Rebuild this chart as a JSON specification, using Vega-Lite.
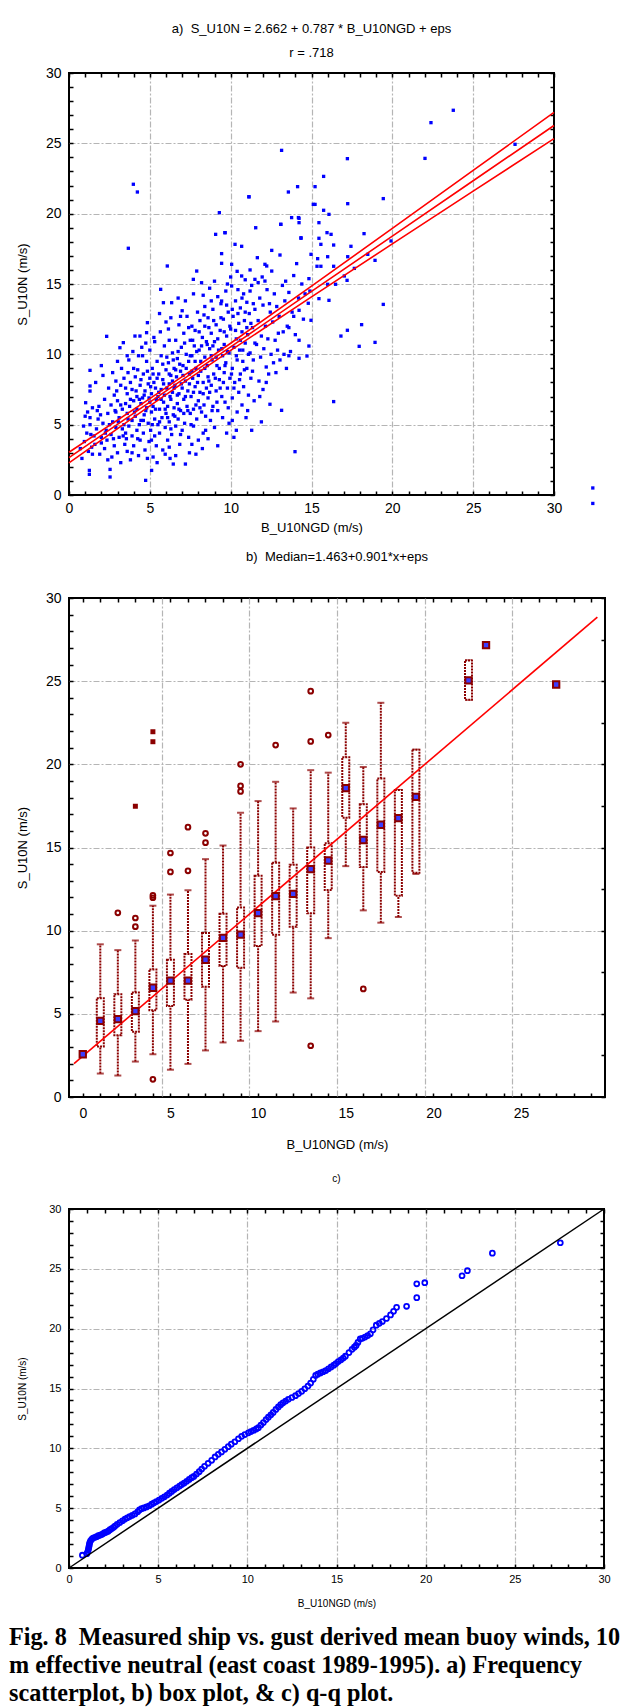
{
"$schema": "https://vega.github.io/schema/vega-lite/v6.json",
"background": "white",
"padding": {"left": 9, "top": 22, "right": 5, "bottom": 0},
"config": {
  "font": "Liberation Sans",
  "view": {"stroke": "#000", "strokeWidth": 2},
  "axis": {"labelFont": "Liberation Sans", "titleFont": "Liberation Sans", "labelColor": "#000", "titleColor": "#000", "titleFontWeight": "normal", "domain": false, "gridColor": "#b5b5b5", "gridDash": [6, 2, 2, 2], "gridWidth": 1.2, "tickColor": "#000", "tickWidth": 1.5, "labelOverlap": false, "labelFlush": false},
  "title": {"font": "Liberation Sans", "fontWeight": "normal", "color": "#000"}
},
"title": {"text": ["Fig. 8\u00a0 Measured ship vs. gust derived mean buoy winds, 10", "m effective neutral (east coast 1989-1995). a) Frequency", "scatterplot, b) box plot, & c) q-q plot."], "orient": "bottom", "anchor": "start", "font": "Liberation Serif", "fontSize": 24.2, "fontWeight": "bold", "lineHeight": 28, "offset": 17, "dx": -6, "color": "#000"},
"datasets": {
  "scatter": [
    {"b":0.8,"s":2.6},{"b":0.95,"s":3.8},{"b":1.03,"s":6.56},{"b":1.0,"s":5.6},{"b":1.1,"s":4.4},{"b":1.2,"s":3.1},{"b":1.3,"s":7.75},{"b":1.3,"s":7.39},{"b":1.3,"s":8.86},{"b":1.3,"s":5.5},{"b":1.3,"s":5.0},{"b":1.35,"s":4.3},{"b":1.4,"s":3.4},{"b":1.45,"s":2.9},{"b":1.26,"s":1.47},{"b":1.26,"s":1.75},{"b":0.9,"s":4.9},{"b":1.15,"s":5.9},{"b":1.45,"s":6.2},{"b":0.7,"s":3.3},
    {"b":1.6,"s":3.6},{"b":1.7,"s":4.7},{"b":1.8,"s":5.4},{"b":1.85,"s":6.3},{"b":1.9,"s":2.9},{"b":2.0,"s":9.2},{"b":2.0,"s":4.1},{"b":2.1,"s":5.1},{"b":2.2,"s":3.3},{"b":2.2,"s":6.8},{"b":2.33,"s":11.28},{"b":2.3,"s":4.6},{"b":2.4,"s":5.8},{"b":2.4,"s":2.5},{"b":2.45,"s":7.6},{"b":1.65,"s":8.0},{"b":2.1,"s":8.5},{"b":2.54,"s":1.28},{"b":2.54,"s":1.82},{"b":2.0,"s":3.7},{"b":1.75,"s":6.0},{"b":2.35,"s":3.9},
    {"b":2.6,"s":4.3},{"b":2.6,"s":6.4},{"b":2.7,"s":5.2},{"b":2.7,"s":8.7},{"b":2.8,"s":3.5},{"b":2.8,"s":7.1},{"b":2.9,"s":4.8},{"b":2.9,"s":5.9},{"b":3.0,"s":3.0},{"b":3.0,"s":6.7},{"b":3.0,"s":9.5},{"b":3.1,"s":4.1},{"b":3.1,"s":5.5},{"b":3.15,"s":10.47},{"b":3.2,"s":7.8},{"b":3.2,"s":2.3},{"b":3.3,"s":4.7},{"b":3.3,"s":6.1},{"b":3.36,"s":10.83},{"b":3.4,"s":5.0},{"b":3.4,"s":8.3},{"b":3.45,"s":3.6},{"b":2.65,"s":2.7},{"b":2.95,"s":7.4},{"b":3.25,"s":9.0},{"b":3.5,"s":6.5},{"b":3.5,"s":4.4},
    {"b":3.6,"s":5.8},{"b":3.6,"s":7.2},{"b":3.6,"s":3.1},{"b":3.7,"s":9.6},{"b":3.7,"s":4.9},{"b":3.75,"s":6.3},{"b":3.8,"s":8.0},{"b":3.8,"s":2.5},{"b":3.9,"s":5.3},{"b":3.9,"s":7.5},{"b":3.9,"s":4.2},{"b":4.0,"s":6.7},{"b":4.0,"s":9.0},{"b":4.0,"s":3.5},{"b":4.08,"s":11.3},{"b":4.1,"s":5.6},{"b":4.1,"s":8.4},{"b":4.2,"s":4.6},{"b":4.2,"s":7.0},{"b":4.2,"s":6.1},{"b":4.3,"s":9.9},{"b":4.3,"s":2.8},{"b":4.35,"s":5.0},{"b":4.39,"s":11.3},{"b":4.4,"s":7.8},{"b":4.4,"s":3.9},{"b":4.45,"s":6.5},{"b":3.65,"s":8.7},{"b":3.95,"s":10.2},{"b":4.25,"s":8.9},{"b":4.45,"s":5.3},{"b":3.55,"s":4.0},
    {"b":4.55,"s":6.9},{"b":4.6,"s":4.4},{"b":4.6,"s":8.6},{"b":4.65,"s":5.7},{"b":4.7,"s":7.4},{"b":4.7,"s":3.2},{"b":4.74,"s":1.04},{"b":4.8,"s":11.54},{"b":4.8,"s":6.2},{"b":4.8,"s":9.5},{"b":4.85,"s":12.25},{"b":4.9,"s":5.1},{"b":4.9,"s":7.9},{"b":4.95,"s":3.8},{"b":5.0,"s":6.6},{"b":5.0,"s":8.3},{"b":5.0,"s":10.3},{"b":5.05,"s":4.6},{"b":5.1,"s":5.9},{"b":5.11,"s":1.75},{"b":5.1,"s":7.2},{"b":5.15,"s":9.0},{"b":5.2,"s":2.7},{"b":5.2,"s":6.3},{"b":5.25,"s":8.0},{"b":5.3,"s":4.2},{"b":5.3,"s":5.4},{"b":5.3,"s":10.9},{"b":5.35,"s":7.6},{"b":5.4,"s":6.8},{"b":5.4,"s":3.5},{"b":5.45,"s":9.5},{"b":5.5,"s":5.0},{"b":5.5,"s":7.0},{"b":4.55,"s":9.9},{"b":4.75,"s":10.8},{"b":5.25,"s":11.2},{"b":4.85,"s":2.6},{"b":5.45,"s":2.3},
    {"b":5.55,"s":8.6},{"b":5.6,"s":6.1},{"b":5.6,"s":4.4},{"b":5.67,"s":14.62},{"b":5.7,"s":7.5},{"b":5.7,"s":9.9},{"b":5.75,"s":5.5},{"b":5.8,"s":3.2},{"b":5.8,"s":8.2},{"b":5.84,"s":13.67},{"b":5.85,"s":6.6},{"b":5.9,"s":7.1},{"b":5.9,"s":10.6},{"b":5.95,"s":4.8},{"b":6.0,"s":5.8},{"b":6.0,"s":8.9},{"b":6.0,"s":12.3},{"b":6.05,"s":7.6},{"b":6.08,"s":16.28},{"b":6.1,"s":3.9},{"b":6.1,"s":6.3},{"b":6.15,"s":9.4},{"b":6.2,"s":5.2},{"b":6.2,"s":7.9},{"b":6.2,"s":11.0},{"b":6.25,"s":2.6},{"b":6.3,"s":6.8},{"b":6.3,"s":8.5},{"b":6.35,"s":13.67},{"b":6.35,"s":4.3},{"b":6.4,"s":7.3},{"b":6.4,"s":10.1},{"b":6.45,"s":5.7},{"b":6.5,"s":9.0},{"b":6.5,"s":6.2},{"b":5.65,"s":11.6},{"b":6.15,"s":11.8},{"b":6.45,"s":2.2},{"b":5.95,"s":2.9},{"b":6.3,"s":12.6},
    {"b":6.55,"s":7.8},{"b":6.6,"s":4.9},{"b":6.6,"s":11.0},{"b":6.65,"s":8.4},{"b":6.7,"s":6.5},{"b":6.7,"s":9.7},{"b":6.75,"s":5.4},{"b":6.8,"s":7.2},{"b":6.8,"s":12.1},{"b":6.85,"s":3.6},{"b":6.9,"s":8.8},{"b":6.9,"s":6.0},{"b":6.95,"s":10.5},{"b":7.0,"s":7.6},{"b":7.0,"s":4.6},{"b":7.05,"s":9.2},{"b":7.1,"s":6.8},{"b":7.1,"s":11.5},{"b":7.15,"s":5.1},{"b":7.2,"s":8.1},{"b":7.2,"s":2.2},{"b":7.25,"s":10.0},{"b":7.3,"s":6.3},{"b":7.3,"s":12.7},{"b":7.35,"s":7.4},{"b":7.4,"s":4.1},{"b":7.4,"s":9.5},{"b":7.45,"s":8.6},{"b":7.5,"s":5.8},{"b":7.5,"s":11.0},{"b":7.0,"s":13.1},{"b":6.6,"s":2.8},{"b":7.45,"s":3.0},{"b":7.2,"s":13.8},{"b":6.75,"s":14.0},
    {"b":7.55,"s":7.0},{"b":7.6,"s":9.9},{"b":7.6,"s":12.0},{"b":7.65,"s":8.3},{"b":7.69,"s":15.33},{"b":7.7,"s":6.1},{"b":7.7,"s":4.9},{"b":7.75,"s":10.6},{"b":7.8,"s":7.7},{"b":7.8,"s":11.7},{"b":7.85,"s":9.0},{"b":7.9,"s":15.92},{"b":7.9,"s":5.4},{"b":7.95,"s":13.0},{"b":8.0,"s":8.5},{"b":8.0,"s":6.7},{"b":8.0,"s":3.9},{"b":8.05,"s":10.3},{"b":8.1,"s":7.3},{"b":8.1,"s":12.4},{"b":8.15,"s":9.5},{"b":8.2,"s":15.09},{"b":8.2,"s":5.9},{"b":8.25,"s":11.2},{"b":8.3,"s":8.0},{"b":8.3,"s":14.2},{"b":8.35,"s":6.4},{"b":8.4,"s":9.8},{"b":8.4,"s":13.4},{"b":8.45,"s":4.6},{"b":8.5,"s":7.6},{"b":8.5,"s":10.9},{"b":7.85,"s":2.9},{"b":8.25,"s":3.3},{"b":8.4,"s":12.0},{"b":7.7,"s":14.3},
    {"b":8.55,"s":9.2},{"b":8.6,"s":12.6},{"b":8.6,"s":6.9},{"b":8.65,"s":8.1},{"b":8.7,"s":10.4},{"b":8.7,"s":14.7},{"b":8.75,"s":5.3},{"b":8.8,"s":11.5},{"b":8.8,"s":7.8},{"b":8.85,"s":9.6},{"b":8.9,"s":13.2},{"b":8.9,"s":6.3},{"b":8.95,"s":8.6},{"b":9.0,"s":10.9},{"b":9.0,"s":4.8},{"b":9.07,"s":18.53},{"b":9.1,"s":12.1},{"b":9.1,"s":7.4},{"b":9.15,"s":9.2},{"b":9.2,"s":14.1},{"b":9.2,"s":6.0},{"b":9.25,"s":10.3},{"b":9.3,"s":20.07},{"b":9.3,"s":8.2},{"b":9.35,"s":11.7},{"b":9.4,"s":13.6},{"b":9.44,"s":13.79},{"b":9.44,"s":17.16},{"b":9.44,"s":16.47},{"b":9.45,"s":7.0},{"b":9.5,"s":9.9},{"b":9.5,"s":5.5},{"b":8.6,"s":4.0},{"b":9.2,"s":3.5},{"b":9.0,"s":15.2},
    {"b":9.55,"s":12.5},{"b":9.6,"s":8.7},{"b":9.6,"s":10.7},{"b":9.65,"s":18.65},{"b":9.65,"s":6.6},{"b":9.7,"s":14.5},{"b":9.7,"s":9.4},{"b":9.75,"s":11.3},{"b":9.8,"s":7.6},{"b":9.85,"s":13.0},{"b":9.9,"s":10.1},{"b":9.9,"s":5.1},{"b":9.95,"s":8.3},{"b":10.0,"s":11.8},{"b":10.0,"s":15.5},{"b":10.06,"s":14.86},{"b":10.06,"s":16.4},{"b":10.1,"s":9.0},{"b":10.1,"s":6.9},{"b":10.15,"s":12.7},{"b":10.2,"s":10.5},{"b":10.2,"s":4.1},{"b":10.25,"s":8.0},{"b":10.27,"s":17.82},{"b":10.3,"s":13.8},{"b":10.35,"s":11.1},{"b":10.4,"s":9.6},{"b":10.4,"s":5.9},{"b":10.45,"s":14.6},{"b":10.5,"s":7.3},{"b":10.5,"s":12.2},{"b":9.75,"s":4.4},{"b":10.35,"s":4.6},
    {"b":10.55,"s":10.3},{"b":10.6,"s":8.6},{"b":10.6,"s":13.3},{"b":10.68,"s":15.57},{"b":10.68,"s":17.68},{"b":10.7,"s":11.6},{"b":10.7,"s":6.4},{"b":10.75,"s":9.5},{"b":10.8,"s":14.3},{"b":10.8,"s":7.7},{"b":10.85,"s":12.4},{"b":10.9,"s":10.8},{"b":10.95,"s":5.5},{"b":11.0,"s":9.0},{"b":11.0,"s":13.7},{"b":11.05,"s":11.4},{"b":11.1,"s":7.1},{"b":11.13,"s":21.2},{"b":11.15,"s":12.9},{"b":11.2,"s":10.1},{"b":11.25,"s":8.3},{"b":11.3,"s":14.9},{"b":11.3,"s":4.6},{"b":11.35,"s":11.9},{"b":11.4,"s":9.6},{"b":11.45,"s":6.7},{"b":11.5,"s":15.33},{"b":11.5,"s":13.2},{"b":11.55,"s":19.0},{"b":10.9,"s":15.3},{"b":11.2,"s":16.0},
    {"b":11.6,"s":10.7},{"b":11.65,"s":16.87},{"b":11.7,"s":12.4},{"b":11.75,"s":8.1},{"b":11.8,"s":14.0},{"b":11.85,"s":9.8},{"b":11.9,"s":11.3},{"b":11.9,"s":5.2},{"b":12.0,"s":13.5},{"b":12.0,"s":7.5},{"b":12.05,"s":10.4},{"b":12.12,"s":15.21},{"b":12.12,"s":16.4},{"b":12.15,"s":12.0},{"b":12.2,"s":9.1},{"b":12.23,"s":16.28},{"b":12.25,"s":14.6},{"b":12.3,"s":11.1},{"b":12.35,"s":8.6},{"b":12.43,"s":6.45},{"b":12.45,"s":13.0},{"b":12.5,"s":10.0},{"b":12.54,"s":17.39},{"b":12.54,"s":15.92},{"b":11.95,"s":15.5},
    {"b":12.6,"s":12.3},{"b":12.65,"s":9.4},{"b":12.7,"s":14.3},{"b":12.75,"s":11.0},{"b":12.8,"s":8.7},{"b":12.85,"s":13.4},{"b":12.9,"s":10.3},{"b":13.0,"s":12.7},{"b":13.05,"s":17.06},{"b":13.05,"s":9.6},{"b":13.1,"s":19.24},{"b":13.15,"s":24.5},{"b":13.15,"s":6.02},{"b":13.2,"s":14.9},{"b":13.25,"s":11.6},{"b":13.3,"s":10.0},{"b":13.35,"s":13.8},{"b":13.4,"s":15.2},{"b":13.45,"s":9.0},{"b":13.5,"s":12.0},
    {"b":13.57,"s":21.54},{"b":13.6,"s":14.4},{"b":13.7,"s":10.2},{"b":13.77,"s":19.72},{"b":13.8,"s":13.0},{"b":13.9,"s":15.6},{"b":13.98,"s":3.08},{"b":14.0,"s":11.4},{"b":14.08,"s":16.45},{"b":14.19,"s":19.72},{"b":14.2,"s":14.0},{"b":14.35,"s":18.29},{"b":14.4,"s":15.0},{"b":14.5,"s":12.5},{"b":14.6,"s":14.3},{"b":14.9,"s":14.5},{"b":13.6,"s":9.9},
    {"b":3.98,"s":22.09},{"b":4.23,"s":21.54},{"b":3.67,"s":17.54},{"b":11.13,"s":21.2},{"b":9.65,"s":18.65},{"b":13.1,"s":19.24},
    {"b":23.77,"s":27.35},{"b":22.39,"s":26.47},{"b":22.02,"s":23.93},{"b":27.59,"s":24.93},{"b":17.22,"s":23.91},{"b":15.75,"s":22.65},{"b":14.14,"s":21.92},{"b":15.22,"s":21.92},{"b":17.24,"s":20.71},{"b":15.11,"s":20.66},{"b":15.22,"s":20.66},{"b":19.44,"s":21.07},{"b":14.23,"s":19.67},{"b":14.23,"s":19.36},{"b":15.75,"s":20.24},{"b":16.08,"s":19.95},{"b":15.46,"s":19.36},{"b":18.25,"s":18.58},{"b":15.96,"s":18.65},{"b":16.21,"s":18.53},{"b":14.35,"s":18.25},{"b":15.46,"s":18.25},{"b":15.58,"s":17.82},{"b":16.37,"s":17.77},{"b":17.44,"s":17.68},{"b":19.92,"s":18.06},{"b":14.97,"s":17.11},{"b":15.38,"s":16.8},{"b":16.0,"s":16.94},{"b":17.24,"s":16.94},{"b":18.48,"s":17.11},{"b":18.93,"s":16.68},{"b":15.34,"s":16.26},{"b":15.58,"s":16.26},{"b":16.37,"s":16.26},{"b":17.65,"s":16.11},{"b":17.03,"s":15.57},{"b":14.84,"s":15.38},{"b":16.0,"s":14.98},{"b":16.49,"s":14.98},{"b":17.2,"s":15.26},{"b":15.46,"s":13.96},{"b":16.08,"s":13.84},{"b":19.44,"s":13.55},{"b":14.8,"s":13.63},{"b":14.23,"s":13.13},{"b":14.97,"s":12.42},{"b":18.1,"s":12.11},{"b":17.22,"s":11.71},{"b":16.82,"s":11.3},{"b":18.93,"s":10.85},{"b":14.23,"s":11.0},{"b":17.95,"s":10.57},{"b":14.84,"s":10.59},{"b":14.72,"s":9.88},{"b":14.23,"s":9.72},{"b":16.37,"s":6.64},
    {"b":4.05,"s":5.9},{"b":4.15,"s":7.4},{"b":4.25,"s":4.0},{"b":4.35,"s":6.8},{"b":4.45,"s":8.2},{"b":4.6,"s":5.3},{"b":4.65,"s":7.1},{"b":4.75,"s":6.0},{"b":4.85,"s":8.8},{"b":4.95,"s":6.9},{"b":5.05,"s":7.7},{"b":5.15,"s":5.0},{"b":5.2,"s":8.6},{"b":5.35,"s":6.1},{"b":5.45,"s":8.3},{"b":5.55,"s":7.3},{"b":5.6,"s":5.2},{"b":5.7,"s":6.8},{"b":5.8,"s":9.3},{"b":5.85,"s":7.9},{"b":5.95,"s":6.1},{"b":6.05,"s":9.8},{"b":6.1,"s":5.5},{"b":6.2,"s":8.6},{"b":6.25,"s":7.0},{"b":6.3,"s":4.7},{"b":6.4,"s":8.1},{"b":6.45,"s":9.6},{"b":6.5,"s":7.6},{"b":6.55,"s":5.6},{"b":6.6,"s":8.9},{"b":6.7,"s":7.1},{"b":6.75,"s":10.2},{"b":6.8,"s":6.1},{"b":6.85,"s":9.3},{"b":6.9,"s":4.3},{"b":6.95,"s":7.9},{"b":7.05,"s":8.5},{"b":7.1,"s":5.8},{"b":7.15,"s":10.8},{"b":7.2,"s":7.0},{"b":7.25,"s":9.0},{"b":7.35,"s":6.0},{"b":7.4,"s":11.9},{"b":7.45,"s":7.9},{"b":7.5,"s":9.9},{"b":7.55,"s":5.0},{"b":7.6,"s":8.8},{"b":7.65,"s":11.0},{"b":7.7,"s":7.3},{"b":7.8,"s":9.5},{"b":7.85,"s":6.4},{"b":7.9,"s":10.2},{"b":7.95,"s":8.0},{"b":8.05,"s":11.6},{"b":8.1,"s":6.2},{"b":8.15,"s":8.8},{"b":8.2,"s":10.6},{"b":8.3,"s":7.2},{"b":8.35,"s":12.8},{"b":8.4,"s":9.0},{"b":8.45,"s":5.6},{"b":8.55,"s":10.7},{"b":8.6,"s":8.4},{"b":8.65,"s":11.9},{"b":8.7,"s":7.3},{"b":8.8,"s":9.9},{"b":8.85,"s":6.0},{"b":8.9,"s":10.6},{"b":8.95,"s":12.4},{"b":9.05,"s":8.3},{"b":9.1,"s":9.8},{"b":9.15,"s":6.6},{"b":9.2,"s":11.1},{"b":9.3,"s":9.0},{"b":9.35,"s":7.6},{"b":9.4,"s":12.6},{"b":9.45,"s":10.4},{"b":9.55,"s":8.0},{"b":9.6,"s":11.6},{"b":9.65,"s":9.2},{"b":9.75,"s":13.5},{"b":9.8,"s":10.2},{"b":9.85,"s":6.2},{"b":9.95,"s":12.0},{"b":10.05,"s":8.6},{"b":10.1,"s":13.2},{"b":10.2,"s":7.6},{"b":10.3,"s":11.7},{"b":10.35,"s":9.9},{"b":10.45,"s":12.9},{"b":10.55,"s":8.2},{"b":10.6,"s":11.0},{"b":10.7,"s":14.0},{"b":10.75,"s":10.3},{"b":10.85,"s":8.9},{"b":10.9,"s":13.0},{"b":11.0,"s":11.9},{"b":11.05,"s":6.0},{"b":11.1,"s":10.0},{"b":11.2,"s":14.5},{"b":11.25,"s":12.2},{"b":11.35,"s":8.8},{"b":11.4,"s":13.6},{"b":11.5,"s":10.8},{"b":3.05,"s":5.2},{"b":3.2,"s":6.4},{"b":3.35,"s":4.2},{"b":3.5,"s":7.6},{"b":3.65,"s":5.4},{"b":3.8,"s":6.8},{"b":3.9,"s":3.0},{"b":2.75,"s":4.0},{"b":2.85,"s":6.0},{"b":2.5,"s":5.0},{"b":2.25,"s":4.4},{"b":1.95,"s":5.7},{"b":1.55,"s":4.2},{"b":3.6,"s":9.9},{"b":2.9,"s":8.1},{"b":4.5,"s":10.5},{"b":5.6,"s":12.9},{"b":6.9,"s":12.7},{"b":8.8,"s":13.8},{"b":9.8,"s":15.0},{"b":10.4,"s":15.9},{"b":11.7,"s":15.1},{"b":12.4,"s":13.6},{"b":12.95,"s":11.5},{"b":13.6,"s":11.9},{"b":13.9,"s":12.7},{"b":12.2,"s":8.0},{"b":11.8,"s":7.0},{"b":10.1,"s":5.3},{"b":7.6,"s":3.6},{"b":6.2,"s":3.4},{"b":5.1,"s":3.9},{"b":8.3,"s":4.4},
    {"b":32.4,"s":0.5},{"b":32.4,"s":-0.6}
  ],
  "regr": [
    {"line":"upper","b":0,"s":3.04},{"line":"upper","b":5,"s":6.85},{"line":"upper","b":7.5,"s":8.8},{"line":"upper","b":10,"s":10.79},{"line":"upper","b":15,"s":14.85},{"line":"upper","b":20,"s":18.95},{"line":"upper","b":25,"s":23.08},{"line":"upper","b":30,"s":27.2},
    {"line":"fit","b":0,"s":2.66},{"line":"fit","b":5,"s":6.6},{"line":"fit","b":7.5,"s":8.57},{"line":"fit","b":10,"s":10.53},{"line":"fit","b":15,"s":14.47},{"line":"fit","b":20,"s":18.4},{"line":"fit","b":25,"s":22.34},{"line":"fit","b":30,"s":26.27},
    {"line":"lower","b":0,"s":2.28},{"line":"lower","b":5,"s":6.34},{"line":"lower","b":7.5,"s":8.33},{"line":"lower","b":10,"s":10.28},{"line":"lower","b":15,"s":14.09},{"line":"lower","b":20,"s":17.85},{"line":"lower","b":25,"s":21.6},{"line":"lower","b":30,"s":25.34}
  ],
  "boxes": [
    {"c":0,"lo":2.57,"q1":2.57,"med":2.57,"q3":2.57,"hi":2.57},
    {"c":1,"lo":1.41,"q1":3.03,"med":4.58,"q3":5.93,"hi":9.18},
    {"c":2,"lo":1.29,"q1":3.71,"med":4.68,"q3":6.18,"hi":8.83},
    {"c":3,"lo":2.13,"q1":3.92,"med":5.16,"q3":6.28,"hi":9.41},
    {"c":4,"lo":2.57,"q1":5.22,"med":6.57,"q3":7.67,"hi":11.5},
    {"c":5,"lo":1.64,"q1":5.47,"med":7.0,"q3":8.25,"hi":12.17},
    {"c":6,"lo":1.99,"q1":5.84,"med":7.0,"q3":8.6,"hi":12.43},
    {"c":7,"lo":2.8,"q1":6.63,"med":8.25,"q3":9.86,"hi":14.3},
    {"c":8,"lo":3.28,"q1":7.88,"med":9.57,"q3":11.01,"hi":15.12},
    {"c":9,"lo":3.38,"q1":7.77,"med":9.76,"q3":11.4,"hi":17.09},
    {"c":10,"lo":3.96,"q1":9.08,"med":11.05,"q3":13.3,"hi":17.79},
    {"c":11,"lo":4.54,"q1":9.76,"med":12.08,"q3":14.09,"hi":18.95},
    {"c":12,"lo":6.28,"q1":10.24,"med":12.21,"q3":13.97,"hi":17.35},
    {"c":13,"lo":5.93,"q1":11.05,"med":13.7,"q3":15.0,"hi":19.65},
    {"c":14,"lo":9.55,"q1":12.44,"med":14.22,"q3":15.26,"hi":19.5},
    {"c":15,"lo":13.88,"q1":16.79,"med":18.57,"q3":20.42,"hi":22.5},
    {"c":16,"lo":11.22,"q1":13.83,"med":15.45,"q3":17.6,"hi":19.84},
    {"c":17,"lo":10.48,"q1":13.53,"med":16.37,"q3":19.15,"hi":23.7},
    {"c":18,"lo":10.82,"q1":12.1,"med":16.77,"q3":18.46,"hi":18.46},
    {"c":19,"lo":13.41,"q1":13.48,"med":18.04,"q3":20.88,"hi":20.88},
    {"c":22,"lo":23.89,"q1":23.89,"med":25.05,"q3":26.25,"hi":26.25},
    {"c":23,"lo":27.17,"q1":27.17,"med":27.17,"q3":27.17,"hi":27.17},
    {"c":27,"lo":24.8,"q1":24.8,"med":24.8,"q3":24.8,"hi":24.8}
  ],
  "outliers": [
    {"c":2,"s":11.07},{"c":3,"s":10.76},{"c":3,"s":10.24},{"c":4,"s":12.12},{"c":4,"s":11.98},{"c":4,"s":1.06},{"c":5,"s":14.67},{"c":5,"s":13.53},{"c":6,"s":16.22},{"c":6,"s":13.6},{"c":7,"s":15.85},{"c":7,"s":15.29},{"c":9,"s":20.0},{"c":9,"s":18.7},{"c":9,"s":18.37},{"c":11,"s":21.16},{"c":13,"s":24.4},{"c":13,"s":21.38},{"c":13,"s":3.08},{"c":14,"s":21.76},{"c":16,"s":6.5}
  ],
  "extremes": [
    {"c":3,"s":17.48},{"c":4,"s":21.96},{"c":4,"s":21.36}
  ],
  "medline": [
    {"c":-0.5,"s":2.0},{"c":29.35,"s":28.85}
  ],
  "qq": [
    {"b":0.75,"s":1.07},{"b":1.0,"s":1.2},{"b":1.05,"s":1.35},{"b":1.08,"s":1.5},{"b":1.1,"s":1.65},{"b":1.12,"s":1.8},{"b":1.14,"s":1.95},{"b":1.16,"s":2.1},{"b":1.2,"s":2.25},{"b":1.27,"s":2.4},{"b":1.35,"s":2.5},{"b":1.46,"s":2.56},{"b":1.55,"s":2.62},{"b":1.65,"s":2.7},{"b":1.75,"s":2.75},{"b":1.83,"s":2.8},{"b":1.92,"s":2.88},{"b":2.0,"s":2.95},{"b":2.1,"s":3.0},{"b":2.2,"s":3.08},{"b":2.3,"s":3.2},{"b":2.4,"s":3.3},{"b":2.5,"s":3.4},{"b":2.58,"s":3.5},{"b":2.7,"s":3.65},{"b":2.85,"s":3.8},{"b":3.0,"s":3.95},{"b":3.14,"s":4.09},{"b":3.27,"s":4.2},{"b":3.4,"s":4.3},{"b":3.55,"s":4.4},{"b":3.7,"s":4.52},{"b":3.85,"s":4.7},{"b":3.95,"s":4.85},{"b":4.07,"s":4.96},{"b":4.2,"s":5.02},{"b":4.35,"s":5.1},{"b":4.5,"s":5.2},{"b":4.64,"s":5.33},{"b":4.77,"s":5.45},{"b":4.9,"s":5.55},{"b":5.05,"s":5.68},{"b":5.2,"s":5.82},{"b":5.35,"s":5.95},{"b":5.5,"s":6.1},{"b":5.63,"s":6.25},{"b":5.76,"s":6.4},{"b":5.9,"s":6.55},{"b":6.05,"s":6.7},{"b":6.2,"s":6.85},{"b":6.32,"s":6.97},{"b":6.46,"s":7.1},{"b":6.6,"s":7.25},{"b":6.74,"s":7.4},{"b":6.88,"s":7.55},{"b":7.0,"s":7.65},{"b":7.15,"s":7.85},{"b":7.3,"s":8.05},{"b":7.44,"s":8.27},{"b":7.6,"s":8.5},{"b":7.8,"s":8.75},{"b":8.0,"s":9.0},{"b":8.19,"s":9.28},{"b":8.37,"s":9.5},{"b":8.55,"s":9.7},{"b":8.74,"s":9.92},{"b":8.93,"s":10.14},{"b":9.1,"s":10.35},{"b":9.3,"s":10.55},{"b":9.5,"s":10.8},{"b":9.68,"s":11.0},{"b":9.86,"s":11.15},{"b":10.06,"s":11.3},{"b":10.2,"s":11.4},{"b":10.35,"s":11.5},{"b":10.5,"s":11.62},{"b":10.62,"s":11.73},{"b":10.76,"s":11.95},{"b":10.9,"s":12.15},{"b":11.05,"s":12.4},{"b":11.18,"s":12.6},{"b":11.32,"s":12.8},{"b":11.45,"s":13.0},{"b":11.6,"s":13.25},{"b":11.74,"s":13.46},{"b":11.87,"s":13.65},{"b":12.0,"s":13.8},{"b":12.15,"s":13.95},{"b":12.3,"s":14.1},{"b":12.5,"s":14.25},{"b":12.7,"s":14.4},{"b":12.87,"s":14.58},{"b":13.05,"s":14.76},{"b":13.22,"s":14.98},{"b":13.4,"s":15.2},{"b":13.55,"s":15.45},{"b":13.7,"s":15.77},{"b":13.83,"s":16.09},{"b":13.95,"s":16.2},{"b":14.1,"s":16.3},{"b":14.25,"s":16.4},{"b":14.4,"s":16.5},{"b":14.55,"s":16.65},{"b":14.7,"s":16.8},{"b":14.85,"s":16.95},{"b":14.97,"s":17.08},{"b":15.1,"s":17.25},{"b":15.25,"s":17.4},{"b":15.38,"s":17.55},{"b":15.5,"s":17.7},{"b":15.7,"s":18.0},{"b":15.87,"s":18.27},{"b":16.0,"s":18.45},{"b":16.1,"s":18.6},{"b":16.2,"s":18.85},{"b":16.33,"s":19.14},{"b":16.45,"s":19.2},{"b":16.6,"s":19.3},{"b":16.75,"s":19.42},{"b":16.9,"s":19.57},{"b":17.05,"s":19.9},{"b":17.23,"s":20.29},{"b":17.4,"s":20.45},{"b":17.57,"s":20.6},{"b":17.8,"s":20.85},{"b":18.03,"s":21.15},{"b":18.2,"s":21.45},{"b":18.37,"s":21.78},{"b":18.93,"s":21.87},{"b":19.5,"s":22.59},{"b":19.5,"s":23.75},{"b":19.95,"s":23.84},{"b":22.04,"s":24.42},{"b":22.34,"s":24.85},{"b":23.74,"s":26.31},{"b":27.55,"s":27.18}
  ],
  "ident": [
    {"b":0,"s":0},{"b":30,"s":30}
  ]
},
"spacing": 15,
"vconcat": [
  {
    "width": 485, "height": 422,
    "title": {"text": ["a)\u00a0 S_U10N = 2.662 + 0.787 * B_U10NGD + eps", "r = .718"], "fontSize": 13, "lineHeight": 24, "offset": 6},
    "layer": [
      {"data": {"name": "scatter"}, "mark": {"type": "square", "size": 11, "color": "#0000ff", "opacity": 1, "clip": false},
       "encoding": {
         "x": {"field": "b", "type": "quantitative", "scale": {"domain": [0, 30], "nice": false, "zero": false},
           "axis": {"orient": "bottom", "values": [0,1,2,3,4,5,6,7,8,9,10,11,12,13,14,15,16,17,18,19,20,21,22,23,24,25,26,27,28,29,30], "labelExpr": "datum.value % 5 === 0 ? datum.label : ''", "grid": true, "gridOpacity": {"condition": {"test": "datum.value % 5 === 0 && datum.value > 0 && datum.value < 30", "value": 1}, "value": 0}, "tickSize": -4, "labelPadding": 10, "labelFontSize": 14, "title": "B_U10NGD (m/s)", "titleFontSize": 13, "titleY": 32, "titleBaseline": "middle"}},
         "y": {"field": "s", "type": "quantitative", "scale": {"domain": [0, 30], "nice": false, "zero": false},
           "axis": {"orient": "left", "values": [0,1,2,3,4,5,6,7,8,9,10,11,12,13,14,15,16,17,18,19,20,21,22,23,24,25,26,27,28,29,30], "labelExpr": "datum.value % 5 === 0 ? datum.label : ''", "grid": true, "gridOpacity": {"condition": {"test": "datum.value % 5 === 0 && datum.value > 0 && datum.value < 30", "value": 1}, "value": 0}, "tickSize": -4, "labelPadding": 12, "labelFontSize": 14, "title": "S_U10N (m/s)", "titleFontSize": 13, "titleX": -47, "titleBaseline": "middle"}}
       }},
      {"data": {"name": "regr"}, "mark": {"type": "line", "color": "#ff0000", "strokeWidth": 1.6},
       "encoding": {
         "x": {"field": "b", "type": "quantitative", "scale": {"domain": [0, 30], "nice": false, "zero": false},
           "axis": {"orient": "top", "values": [0,1,2,3,4,5,6,7,8,9,10,11,12,13,14,15,16,17,18,19,20,21,22,23,24,25,26,27,28,29,30], "labels": false, "grid": false, "tickSize": -4, "title": null}},
         "y": {"field": "s", "type": "quantitative", "scale": {"domain": [0, 30], "nice": false, "zero": false},
           "axis": {"orient": "right", "values": [0,1,2,3,4,5,6,7,8,9,10,11,12,13,14,15,16,17,18,19,20,21,22,23,24,25,26,27,28,29,30], "labels": false, "grid": false, "tickSize": -4, "title": null}},
         "detail": {"field": "line"}
       }}
    ],
    "resolve": {"axis": {"x": "independent", "y": "independent"}}
  },
  {
    "spacing": 21,
    "vconcat": [
      {
        "width": 536, "height": 499,
        "title": {"text": "b)\u00a0 Median=1.463+0.901*x+eps", "fontSize": 13, "offset": 27},
        "layer": [
          {"data": {"name": "boxes"}, "mark": {"type": "rule", "color": "#8b0000", "strokeWidth": 2, "strokeDash": [2, 1]},
           "encoding": {
             "x": {"field": "c", "type": "quantitative", "scale": {"domain": [-0.5, 29.5], "nice": false, "zero": false},
               "axis": {"orient": "bottom", "values": [0,1,2,3,4,5,6,7,8,9,10,11,12,13,14,15,16,17,18,19,20,21,22,23,24,25,26,27,28,29,4.5,9.5,14.5,19.5,24.5], "labelExpr": "datum.value % 5 === 0 ? datum.label : ''", "grid": true, "gridOpacity": {"condition": {"test": "datum.value % 1 !== 0", "value": 1}, "value": 0}, "tickOpacity": {"condition": {"test": "datum.value % 1 === 0", "value": 1}, "value": 0}, "tickSize": -4, "labelPadding": 13, "labelFontSize": 14, "title": "B_U10NGD (m/s)", "titleFontSize": 13, "titleY": 47, "titleBaseline": "middle"}},
             "y": {"field": "lo", "type": "quantitative", "scale": {"domain": [0, 30], "nice": false, "zero": false},
               "axis": {"orient": "left", "values": [0,1,2,3,4,5,6,7,8,9,10,11,12,13,14,15,16,17,18,19,20,21,22,23,24,25,26,27,28,29,30], "labelExpr": "datum.value % 5 === 0 ? datum.label : ''", "grid": true, "gridOpacity": {"condition": {"test": "datum.value % 5 === 0 && datum.value > 0 && datum.value < 30", "value": 1}, "value": 0}, "tickSize": -4, "labelPadding": 12, "labelFontSize": 14, "title": "S_U10N (m/s)", "titleFontSize": 13, "titleX": -47, "titleBaseline": "middle"}},
             "y2": {"field": "hi"}
           }},
          {"data": {"name": "boxes"}, "mark": {"type": "tick", "orient": "horizontal", "color": "#8b0000", "size": 7, "thickness": 2},
           "encoding": {
             "x": {"field": "c", "type": "quantitative", "scale": {"domain": [-0.5, 29.5], "nice": false, "zero": false}, "axis": null},
             "y": {"field": "lo", "type": "quantitative", "scale": {"domain": [0, 30], "nice": false, "zero": false}, "axis": null}
           }},
          {"data": {"name": "boxes"}, "mark": {"type": "tick", "orient": "horizontal", "color": "#8b0000", "size": 7, "thickness": 2},
           "encoding": {
             "x": {"field": "c", "type": "quantitative", "scale": {"domain": [-0.5, 29.5], "nice": false, "zero": false}, "axis": null},
             "y": {"field": "hi", "type": "quantitative", "scale": {"domain": [0, 30], "nice": false, "zero": false}, "axis": null}
           }},
          {"data": {"name": "boxes"}, "mark": {"type": "bar", "size": 7, "fill": "white", "stroke": "#8b0000", "strokeWidth": 2, "strokeDash": [2, 1]},
           "encoding": {
             "x": {"field": "c", "type": "quantitative", "scale": {"domain": [-0.5, 29.5], "nice": false, "zero": false}, "axis": null},
             "y": {"field": "q1", "type": "quantitative", "scale": {"domain": [0, 30], "nice": false, "zero": false}, "axis": null},
             "y2": {"field": "q3"}
           }},
          {"data": {"name": "outliers"}, "mark": {"type": "point", "shape": "circle", "filled": false, "color": "#8b0000", "strokeWidth": 2, "size": 22, "opacity": 1},
           "encoding": {
             "x": {"field": "c", "type": "quantitative", "scale": {"domain": [-0.5, 29.5], "nice": false, "zero": false}, "axis": null},
             "y": {"field": "s", "type": "quantitative", "scale": {"domain": [0, 30], "nice": false, "zero": false}, "axis": null}
           }},
          {"data": {"name": "extremes"}, "mark": {"type": "square", "color": "#8b0000", "size": 25, "opacity": 1},
           "encoding": {
             "x": {"field": "c", "type": "quantitative", "scale": {"domain": [-0.5, 29.5], "nice": false, "zero": false}, "axis": null},
             "y": {"field": "s", "type": "quantitative", "scale": {"domain": [0, 30], "nice": false, "zero": false}, "axis": null}
           }},
          {"data": {"name": "medline"}, "mark": {"type": "line", "color": "#ff0000", "strokeWidth": 1.6},
           "encoding": {
             "x": {"field": "c", "type": "quantitative", "scale": {"domain": [-0.5, 29.5], "nice": false, "zero": false},
               "axis": {"orient": "top", "values": [0,1,2,3,4,5,6,7,8,9,10,11,12,13,14,15,16,17,18,19,20,21,22,23,24,25,26,27,28,29], "labels": false, "grid": false, "tickSize": -4, "title": null}},
             "y": {"field": "s", "type": "quantitative", "scale": {"domain": [0, 30], "nice": false, "zero": false},
               "axis": {"orient": "right", "values": [0,2.5,5,7.5,10,12.5,15,17.5,20,22.5,25,27.5,30], "labels": false, "grid": false, "tickSize": -4, "title": null}}
           }},
          {"data": {"name": "boxes"}, "mark": {"type": "square", "size": 40, "fill": "#3c3cff", "stroke": "#8b0000", "strokeWidth": 2, "opacity": 1},
           "encoding": {
             "x": {"field": "c", "type": "quantitative", "scale": {"domain": [-0.5, 29.5], "nice": false, "zero": false}, "axis": null},
             "y": {"field": "med", "type": "quantitative", "scale": {"domain": [0, 30], "nice": false, "zero": false}, "axis": null}
           }}
        ],
        "resolve": {"axis": {"x": "independent", "y": "independent"}}
      },
      {
        "width": 535, "height": 359,
        "title": {"text": "c)", "fontSize": 10, "offset": 19},
        "layer": [
          {"data": {"name": "qq"}, "mark": {"type": "point", "shape": "circle", "filled": false, "color": "#0000ff", "strokeWidth": 1.8, "size": 24, "opacity": 1},
           "encoding": {
             "x": {"field": "b", "type": "quantitative", "scale": {"domain": [0, 30], "nice": false, "zero": false},
               "axis": {"orient": "bottom", "values": [0,1,2,3,4,5,6,7,8,9,10,11,12,13,14,15,16,17,18,19,20,21,22,23,24,25,26,27,28,29,30], "labelExpr": "datum.value % 5 === 0 ? datum.label : ''", "grid": true, "gridOpacity": {"condition": {"test": "datum.value % 5 === 0 && datum.value > 0 && datum.value < 30", "value": 1}, "value": 0}, "tickSize": -4, "labelPadding": 9, "labelFontSize": 11, "title": "B_U10NGD (m/s)", "titleFontSize": 10, "titleY": 35, "titleBaseline": "middle"}},
             "y": {"field": "s", "type": "quantitative", "scale": {"domain": [0, 30], "nice": false, "zero": false},
               "axis": {"orient": "left", "values": [0,1,2,3,4,5,6,7,8,9,10,11,12,13,14,15,16,17,18,19,20,21,22,23,24,25,26,27,28,29,30], "labelExpr": "datum.value % 5 === 0 ? datum.label : ''", "grid": true, "gridOpacity": {"condition": {"test": "datum.value % 5 === 0 && datum.value > 0 && datum.value < 30", "value": 1}, "value": 0}, "tickSize": -4, "labelPadding": 12, "labelFontSize": 11, "title": "S_U10N (m/s)", "titleFontSize": 10, "titleX": -47, "titleBaseline": "middle"}}
           }},
          {"data": {"name": "ident"}, "mark": {"type": "line", "color": "#000000", "strokeWidth": 1.5},
           "encoding": {
             "x": {"field": "b", "type": "quantitative", "scale": {"domain": [0, 30], "nice": false, "zero": false},
               "axis": {"orient": "top", "values": [0,1,2,3,4,5,6,7,8,9,10,11,12,13,14,15,16,17,18,19,20,21,22,23,24,25,26,27,28,29,30], "labels": false, "grid": false, "tickSize": -4, "title": null}},
             "y": {"field": "s", "type": "quantitative", "scale": {"domain": [0, 30], "nice": false, "zero": false},
               "axis": {"orient": "right", "values": [0,1,2,3,4,5,6,7,8,9,10,11,12,13,14,15,16,17,18,19,20,21,22,23,24,25,26,27,28,29,30], "labels": false, "grid": false, "tickSize": -4, "title": null}}
           }}
        ],
        "resolve": {"axis": {"x": "independent", "y": "independent"}}
      }
    ]
  }
]
}
